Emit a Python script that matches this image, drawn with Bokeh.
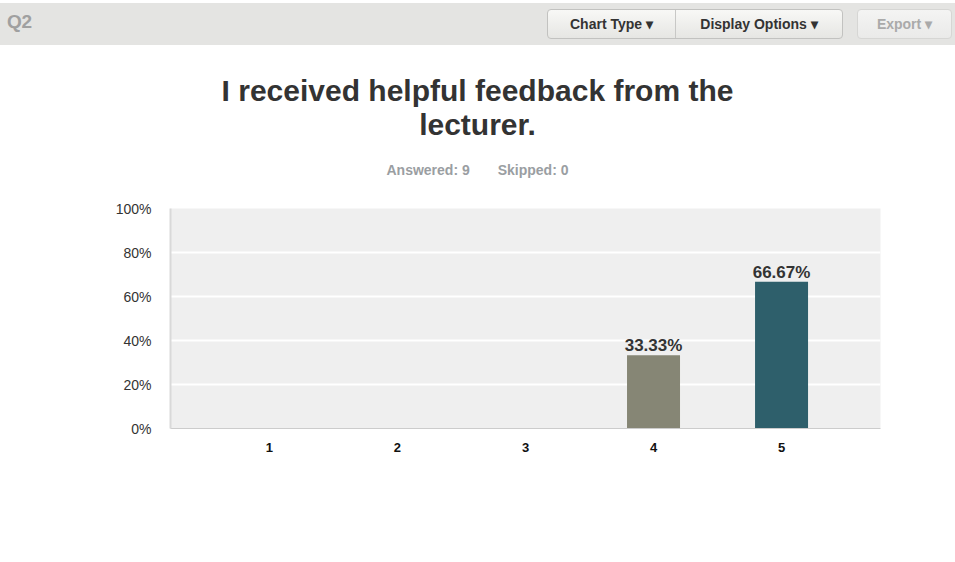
from bokeh.plotting import figure
from bokeh.models import Div, FixedTicker, PrintfTickFormatter, ColumnDataSource, Range1d, FactorRange
from bokeh.layouts import column
from bokeh.embed import file_html
from bokeh.resources import INLINE
from bokeh.core.properties import value

# ---- data ----
question = "Q2"
title_lines = ["I received helpful feedback from the", "lecturer."]
answered = 9
skipped = 0
categories = ["1", "2", "3", "4", "5"]
percents = [0, 0, 0, 33.33, 66.67]
bar_colors = ["#5b8d9b", "#a3a48a", "#c9c1a0", "#868675", "#2e5f6b"]
y_ticks = [0, 20, 40, 60, 80, 100]
buttons = ["Chart Type", "Display Options", "Export"]

FONT = "'Liberation Sans', Arial, Helvetica, sans-serif"
W = 955

header_html = f"""
<div style="position:relative;width:{W}px;height:45px;background:white;font-family:{FONT};">
  <div style="position:absolute;left:0;top:3px;width:{W}px;height:42px;background:#e4e4e2;"></div>
  <span style="position:absolute;left:7px;top:12px;font-size:19px;line-height:20px;font-weight:bold;color:#a0a0a0;letter-spacing:-0.3px;">{question}</span>
  <div style="position:absolute;left:547px;top:9px;width:296px;height:30px;box-sizing:border-box;border:1px solid #c2c2c0;border-radius:4px;background:linear-gradient(#f8f8f6,#e6e6e3);display:flex;">
    <div style="width:128px;border-right:1px solid #c8c8c6;text-align:center;line-height:28px;font-size:14px;font-weight:bold;color:#333;">{buttons[0]}&nbsp;&#9662;</div>
    <div style="flex:1;text-align:center;line-height:28px;font-size:14px;font-weight:bold;color:#333;">{buttons[1]}&nbsp;&#9662;</div>
  </div>
  <div style="position:absolute;left:857px;top:9px;width:95px;height:30px;box-sizing:border-box;border:1px solid #d6d6d4;border-radius:4px;background:linear-gradient(#f4f4f3,#eaeae9);text-align:center;line-height:28px;font-size:14px;font-weight:bold;color:#aaaaaa;">{buttons[2]}&nbsp;&#9662;</div>
</div>
"""
header = Div(text=header_html, width=W, height=45, margin=0)

title_html = f"""
<div style="position:relative;width:{W}px;height:150px;font-family:{FONT};">
  <div style="position:absolute;left:0;top:29px;width:{W}px;text-align:center;font-size:30px;line-height:34px;font-weight:bold;color:#333;">{title_lines[0]}<br>{title_lines[1]}</div>
  <div style="position:absolute;left:0;top:117px;width:{W}px;text-align:center;font-size:14px;line-height:16px;font-weight:bold;color:#9a9ea2;">Answered: {answered}<span style="display:inline-block;width:28px;"></span>Skipped: {skipped}</div>
</div>
"""
title_div = Div(text=title_html, width=W, height=150, margin=0)

labels = [f"{v:.2f}%" if v > 0 else "" for v in percents]
src = ColumnDataSource(dict(cat=categories, pct=percents, color=bar_colors, label=labels))

p = figure(
    width=W, height=350,
    x_range=FactorRange(*categories, range_padding=0.273, range_padding_units="absolute"),
    y_range=Range1d(0, 100),
    output_backend="svg", toolbar_location=None,
    min_border_left=170, min_border_right=75, min_border_top=13, min_border_bottom=117,
)
p.background_fill_color = "#efefef"
p.border_fill_color = "white"
p.outline_line_color = None

p.vbar(x="cat", top="pct", width=0.414, color="color", line_color=None, source=src)
p.text(x="cat", y="pct", text="label", source=src, text_align="center", text_baseline="bottom",
       y_offset=0, text_font=value("Liberation Sans"), text_font_style="bold",
       text_font_size="17px", text_color="#333333")

p.xgrid.grid_line_color = None
p.ygrid.grid_line_color = "white"
p.ygrid.grid_line_width = 2
p.ygrid.ticker = FixedTicker(ticks=y_ticks)

p.yaxis.ticker = FixedTicker(ticks=y_ticks)
p.yaxis.formatter = PrintfTickFormatter(format="%d%%")
p.yaxis.major_tick_line_color = None
p.yaxis.minor_tick_line_color = None
p.yaxis.axis_line_color = "#d9d9d9"
p.yaxis.axis_line_width = 2
p.yaxis.major_label_standoff = 13
p.yaxis.major_label_text_font = "Liberation Sans"
p.yaxis.major_label_text_font_size = "14px"
p.yaxis.major_label_text_color = "#333333"

p.xaxis.major_tick_line_color = None
p.xaxis.minor_tick_line_color = None
p.xaxis.axis_line_color = "#cccccc"
p.xaxis.major_label_standoff = 8
p.xaxis.major_label_text_font = "Liberation Sans"
p.xaxis.major_label_text_font_style = "bold"
p.xaxis.major_label_text_font_size = "13px"
p.xaxis.major_label_text_color = "#111111"

layout = column(header, title_div, p, spacing=0)

open("out.html", "w").write(file_html(layout, INLINE))
